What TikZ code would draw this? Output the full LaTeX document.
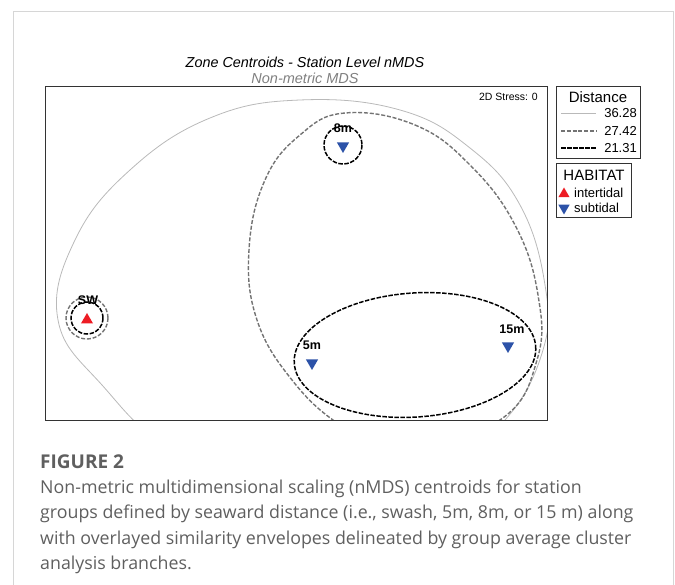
\documentclass[tikz,border=0pt]{standalone}
\usepackage{fontspec}
\setmainfont{Liberation Sans}
\newfontfamily\captionfont{Open Sans}
\definecolor{FrameColor}{RGB}{214,214,214}
\definecolor{EnvLightColor}{RGB}{185,185,185}
\definecolor{EnvMidColor}{RGB}{115,115,115}
\definecolor{InterColor}{RGB}{237,28,36}
\definecolor{SubColor}{RGB}{44,82,168}
\definecolor{SubtitleColor}{RGB}{128,128,128}
\definecolor{CaptionColor}{RGB}{95,95,95}
\usepackage{tikz}
\usetikzlibrary{positioning, shapes.geometric, calc}
\tikzstyle{frame} = [FrameColor, line width=1pt]
\tikzstyle{plotbox} = [draw=black!80, line width=0.9pt]
\tikzstyle{envlight} = [EnvLightColor, line width=0.8pt]
\tikzstyle{envmid} = [EnvMidColor, line width=1.4pt, dash pattern=on 4pt off 1.8pt]
\tikzstyle{envdark} = [black, line width=1.5pt, dash pattern=on 4.5pt off 1.5pt]
\tikzstyle{upmark} = [regular polygon, regular polygon sides=3, fill=InterColor, inner sep=0pt, minimum size=14pt]
\tikzstyle{downmark} = [upmark, fill=SubColor, shape border rotate=180]
\tikzstyle{station} = [font=\bfseries\fontsize{12.5}{13}\selectfont, inner sep=0pt]
\tikzstyle{legtext} = [font=\fontsize{13}{14}\selectfont, inner sep=0pt]

\begin{document}
\begin{tikzpicture}[x=1pt, y=-1pt]
    \useasboundingbox (0,0) rectangle (675,585);
    % Outer frame
    \coordinate (frameBL) at (13,585);
    \coordinate (frameTL) at (13,12);
    \coordinate (frameTR) at (673,12);
    \coordinate (frameBR) at (673,585);
    \draw[frame] (frameBL) -- (frameTL) -- (frameTR) -- (frameBR);

    % Titles
    \node[anchor=base, font=\itshape\fontsize{14.4}{15}\selectfont] (title) at (305,68) {Zone Centroids - Station Level nMDS};
    \node[anchor=base, font=\itshape\fontsize{14.5}{15}\selectfont, text=SubtitleColor] (subtitle) at (305,84) {Non-metric MDS};

    % Plot area
    \coordinate (plotNW) at (45,86);
    \coordinate (plotSE) at (547,420);
    \node[anchor=base east, font=\fontsize{10.5}{11}\selectfont, inner sep=0pt] (stress) at (538,101) {2D Stress: 0};
    \begin{scope}
        \clip (plotNW) rectangle (plotSE);
        % 36.28 envelope
        \draw[envlight] plot[smooth cycle, tension=0.7] coordinates {(300,100) (400,110) (470,148) (520,205) (545,285) (543,350) (505,420) (440,465) (300,490) (175,450) (102,385) (58,320) (75,240) (130,170) (210,118)};
        % 27.42 envelope
        \draw[envmid] plot[smooth cycle, tension=0.7] coordinates {(345,113) (415,125) (470,165) (515,225) (538,295) (537,360) (500,420) (400,455) (340,425) (292,380) (257,320) (249,250) (265,180) (300,135)};
        \draw[envmid] (87,318) circle [radius=21];
        % 21.31 envelopes
        \draw[envdark, rotate around={4:(415,355)}] (415,355) ellipse [x radius=121, y radius=62];
        \draw[envdark] (343,145) circle [radius=19];
        \draw[envdark] (87,318) circle [radius=16];
    \end{scope}
    \draw[plotbox] (plotNW) rectangle (plotSE);

    % Station centroids
    \node[upmark] (swMark) at (87,320) {};
    \foreach \name/\x/\y in {eight/343/146, five/312/363, fifteen/508/346} {
            \node[downmark] (\name Mark) at (\x,\y) {};
        }
    \node[station] (swLabel) at (88,300) {SW};
    \node[station] (eightLabel) at (343,128) {8m};
    \node[station] (fiveLabel) at (312,345) {5m};
    \node[station] (fifteenLabel) at (512,329) {15m};

    % Distance legend
    \coordinate (distNW) at (556,86);
    \coordinate (distSE) at (640,158);
    \draw[plotbox] (distNW) rectangle (distSE);
    \node[font=\fontsize{15}{16}\selectfont, inner sep=0pt] (distTitle) at (598,97) {Distance};
    \foreach \lvl/\y/\sty in {36.28/113/envlight, 27.42/131/envmid, 21.31/148/envdark} {
            \coordinate (key\y a) at (561,\y);
            \coordinate (key\y b) at (596,\y);
            \draw[\sty] (key\y a) -- (key\y b);
            \node[legtext, anchor=east] (val\y) at (637,\y) {\lvl};
        }

    % Habitat legend
    \coordinate (habNW) at (556,163);
    \coordinate (habSE) at (631,217);
    \draw[plotbox] (habNW) rectangle (habSE);
    \node[font=\fontsize{15}{16}\selectfont, inner sep=0pt] (habTitle) at (594,175) {HABITAT};
    \node[upmark, minimum size=13pt] (interKey) at (564,194) {};
    \node[downmark, minimum size=13pt] (subKey) at (564,208) {};
    \node[legtext, anchor=west] (interText) at (574,193) {intertidal};
    \node[legtext, anchor=west] (subText) at (574,208) {subtidal};

    % Caption
    \node[anchor=base west, inner sep=0pt, font=\captionfont\bfseries\fontsize{19}{20}\selectfont, text=CaptionColor] (figLabel) at (40,468) {FIGURE 2};
    \foreach \ln/\y in {{Non-metric multidimensional scaling (nMDS) centroids for station}/493,
            {groups defined by seaward distance (i.e., swash, 5m, 8m, or 15 m) along}/518.5,
            {with overlayed similarity envelopes delineated by group average cluster}/544,
            {analysis branches.}/569.5} {
            \node[anchor=base west, inner sep=0pt, font=\captionfont\fontsize{17.8}{20}\selectfont, text=CaptionColor] at (40,\y) {\ln};
        }
\end{tikzpicture}
\end{document}
